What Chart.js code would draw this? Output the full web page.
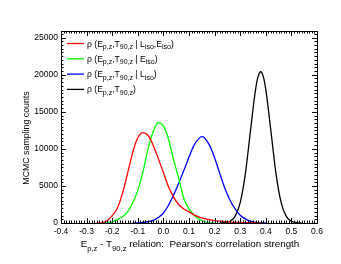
<!DOCTYPE html>
<html>
<head>
<meta charset="utf-8">
<script src="https://cdn.jsdelivr.net/npm/chart.js@4.4.1/dist/chart.umd.min.js"></script>
<style>
html,body{margin:0;padding:0;background:#fff;}
canvas{display:block;}
</style>
</head>
<body>
<canvas id="c" width="341" height="264"></canvas>
<script>
// ---- data ----
const xRed   = [-0.26,-0.24,-0.22,-0.20,-0.18,-0.16,-0.14,-0.12,-0.10,-0.08,-0.06,-0.04,-0.02,0.00,0.02,0.04,0.06,0.08,0.10,0.12,0.14,0.16,0.18,0.20,0.22,0.24,0.26,0.28,0.30,0.32,0.34,0.36,0.38];
const yRed   = [0,50,300,1000,2000,4000,6700,9500,11500,12200,11800,10500,8700,6800,4900,3500,2500,1900,1500,1100,800,600,450,330,250,180,130,90,60,40,20,10,0];

const xGreen = [-0.24,-0.22,-0.20,-0.18,-0.16,-0.14,-0.12,-0.10,-0.08,-0.06,-0.04,-0.02,0.00,0.02,0.04,0.06,0.08,0.10,0.12,0.14,0.16,0.18,0.20];
const yGreen = [0,20,150,450,850,1500,2700,4400,6900,10000,12300,13550,13100,11300,8500,6000,3300,1900,1050,500,200,60,0];

const xBlue  = [-0.12,-0.10,-0.08,-0.06,-0.04,-0.02,0.00,0.02,0.04,0.06,0.08,0.10,0.12,0.14,0.15,0.16,0.18,0.20,0.22,0.24,0.26,0.28,0.30,0.32,0.34,0.36,0.38,0.40];
const yBlue  = [0,30,80,170,350,750,1350,2400,3800,5400,7100,8900,10500,11450,11650,11500,10500,8800,6700,4700,3100,1900,1050,550,250,90,20,0];

const xBlack = [0.22,0.24,0.26,0.28,0.30,0.32,0.34,0.36,0.37,0.38,0.39,0.40,0.42,0.44,0.46,0.48,0.50,0.52,0.54];
const yBlack = [0,45,230,900,2760,6600,12400,18000,19770,20400,19770,18000,12400,6600,2760,900,230,45,0];

const seriesLabels = [
  "ρ (E_{p,z},T_{90,z} | L_{iso},E_{iso})",
  "ρ (E_{p,z},T_{90,z} | E_{iso})",
  "ρ (E_{p,z},T_{90,z} | L_{iso})",
  "ρ (E_{p,z},T_{90,z})"
];
const seriesColors = ["#ff0000", "#00ff00", "#0000ff", "#000000"];

const xTicks = [-0.4,-0.3,-0.2,-0.1,0.0,0.1,0.2,0.3,0.4,0.5,0.6];
const yTicks = [0,5000,10000,15000,20000,25000];
const xTitle = "E_{p,z} - T_{90,z} relation:  Pearson's correlation strength";
const yTitle = "MCMC sampling counts";

const FONT = "'Liberation Sans', Arial, Helvetica, sans-serif";

function pts(xs, ys){ return xs.map((x,i)=>({x:x, y:ys[i]})); }

function parseRich(s){
  const segs=[]; let buf=''; let i=0;
  while(i<s.length){
    if(s[i]==='_' && s[i+1]==='{'){
      if(buf){segs.push({t:buf,sub:false}); buf='';}
      const j=s.indexOf('}',i);
      segs.push({t:s.slice(i+2,j),sub:true});
      i=j+1;
    } else { buf+=s[i]; i++; }
  }
  if(buf) segs.push({t:buf,sub:false});
  return segs;
}
function drawRich(ctx, s, x, y, size, subSize, subDy, align){
  const segs=parseRich(s);
  let w=0;
  segs.forEach(g=>{ ctx.font=(g.sub?subSize:size)+'px '+FONT; g.w=ctx.measureText(g.t).width; w+=g.w; });
  let cx = align==='center' ? x-w/2 : x;
  ctx.textBaseline='alphabetic'; ctx.textAlign='left';
  segs.forEach(g=>{
    ctx.font=(g.sub?subSize:size)+'px '+FONT;
    ctx.fillText(g.t, cx, g.sub? y+subDy : y);
    cx+=g.w;
  });
}

const framePlugin = {
  id:'frame',
  afterDatasetsDraw(chart){
    const ctx=chart.ctx, a=chart.chartArea, xs=chart.scales.x, ys=chart.scales.y;
    ctx.save();
    ctx.strokeStyle='#000'; ctx.lineWidth=1;
    ctx.strokeRect(Math.round(a.left)+0.5, Math.round(a.top)+0.5, Math.round(a.right-a.left), Math.round(a.bottom-a.top));
    ctx.beginPath();
    for(let k=0;k<=100;k++){
      const v=-0.4+k*0.01; const L=(k%10===0)?5:2.5;
      const px=Math.round(xs.getPixelForValue(v))+0.5;
      ctx.moveTo(px,a.bottom); ctx.lineTo(px,a.bottom-L);
      ctx.moveTo(px,a.top); ctx.lineTo(px,a.top+L);
    }
    for(let k=0;k*500<=ys.max;k++){
      const v=k*500; const L=(k%10===0)?5:2.5;
      const py=Math.round(ys.getPixelForValue(v))+0.5;
      ctx.moveTo(a.left,py); ctx.lineTo(a.left+L,py);
      ctx.moveTo(a.right,py); ctx.lineTo(a.right-L,py);
    }
    ctx.stroke();

    // legend
    ctx.fillStyle='#000';
    chart.data.datasets.forEach((d,i)=>{
      const cy=43.5+15.3*i;
      ctx.strokeStyle=d.borderColor; ctx.lineWidth=1.3;
      ctx.beginPath(); ctx.moveTo(67,cy); ctx.lineTo(84,cy); ctx.stroke();
      drawRich(ctx, d.label, 87, cy+3, 8.6, 7, 2.5, 'left');
    });

    // axis titles
    drawRich(ctx, xTitle, 190, 247, 9.8, 7.6, 4, 'center');
    ctx.translate(27,138); ctx.rotate(-Math.PI/2);
    ctx.font='8.8px '+FONT; ctx.textAlign='center'; ctx.textBaseline='middle';
    ctx.fillText(yTitle,0,0);
    ctx.restore();
  }
};

const xs=[xRed,xGreen,xBlue,xBlack], ysArr=[yRed,yGreen,yBlue,yBlack];
new Chart(document.getElementById('c'), {
  type:'line',
  data:{
    datasets: seriesLabels.map((lab,i)=>({
      label: lab,
      data: pts(xs[i], ysArr[i]),
      borderColor: seriesColors[i],
      borderWidth: 1.3,
      pointRadius: 0,
      fill: false,
      cubicInterpolationMode: 'monotone'
    }))
  },
  options:{
    responsive:false, animation:false, devicePixelRatio:1,
    layout:{padding:{left:0,right:24,top:31,bottom:0}},
    plugins:{legend:{display:false}, tooltip:{enabled:false}, title:{display:false}},
    scales:{
      x:{
        type:'linear', min:-0.4, max:0.6,
        grid:{display:false, drawTicks:false}, border:{display:false},
        ticks:{color:'#000', font:{size:8.5, family:FONT}, padding:4, autoSkip:false, maxRotation:0,
               callback:(v)=>(Math.abs(v)<1e-9?0:v).toFixed(1)},
        afterBuildTicks:(s)=>{ s.ticks = xTicks.map(v=>({value:v})); },
        afterFit:(s)=>{ s.height=41; }
      },
      y:{
        type:'linear', min:0, max:25900,
        grid:{display:false, drawTicks:false}, border:{display:false},
        ticks:{color:'#000', font:{size:8.5, family:FONT}, padding:3, autoSkip:false,
               callback:(v)=>String(v)},
        afterBuildTicks:(s)=>{ s.ticks = yTicks.map(v=>({value:v})); },
        afterFit:(s)=>{ s.width=61; }
      }
    }
  },
  plugins:[framePlugin]
});
</script>
</body>
</html>
